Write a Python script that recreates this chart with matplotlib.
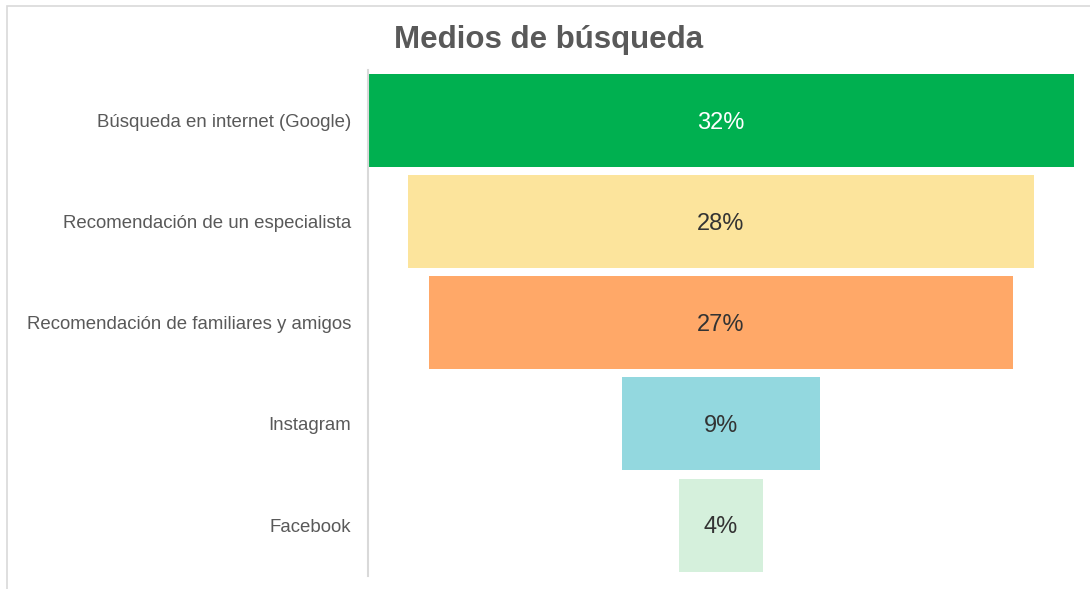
import matplotlib.pyplot as plt
from matplotlib.patches import Rectangle

plt.rcParams['font.family'] = ['Liberation Sans', 'DejaVu Sans']

categories = ['Búsqueda en internet (Google)', 'Recomendación de un especialista',
              'Recomendación de familiares y amigos', 'Instagram', 'Facebook']
values = [32.0, 28.4, 26.5, 9.0, 3.8]
labels = ['32%', '28%', '27%', '9%', '4%']
colors = ['#00B050', '#FCE49C', '#FFA868', '#93D8DF', '#D5F0DC']
text_colors = ['white', '#333333', '#333333', '#333333', '#333333']

fig = plt.figure(figsize=(10.9, 5.89), dpi=100)
# outer frame
fig.patches.append(Rectangle((7 / 1090, -0.1), 1.2, 1 - 6 / 589 + 0.1, transform=fig.transFigure,
                             fill=False, edgecolor='#D9D9D9', linewidth=1.2))
ax = fig.add_axes([368 / 1090, 13.4 / 589, 706 / 1090, 505.6 / 589])

ypos = range(len(categories))
ax.barh(ypos, values, left=[-v / 2 for v in values], height=0.92, color=colors)
for y, v, lab, tc in zip(ypos, values, labels, text_colors):
    ax.text(0, y + 0.02, lab, ha='center', va='center', fontsize=17, color=tc)

ax.set_xlim(-16, 16)
ax.set_ylim(4.5, -0.5)
ax.set_yticks(list(ypos))
ax.set_yticklabels(categories, fontsize=13.4, color='#595959')
ax.tick_params(axis='y', length=0, pad=12)
ax.set_xticks([])
for s in ['top', 'right', 'bottom']:
    ax.spines[s].set_visible(False)
ax.spines['left'].set_color('#D9D9D9')
ax.spines['left'].set_linewidth(1.5)

fig.text(549 / 1090, 1 - 40 / 589, 'Medios de búsqueda', ha='center', va='center',
         fontsize=22.5, fontweight='bold', color='#595959')

fig.savefig('out.png', dpi=100)
